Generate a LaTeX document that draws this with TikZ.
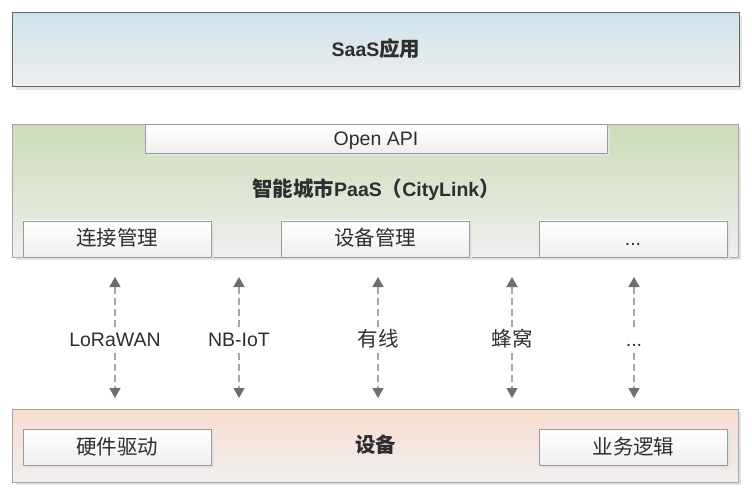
\documentclass[tikz,border=0pt]{standalone}
\usepackage{fontspec}
\setmainfont{Liberation Sans}
\newfontfamily\cjk[Scale=1.05]{Noto Sans CJK SC}
\usetikzlibrary{arrows.meta}
\usetikzlibrary{shadows}

\definecolor{txtgrey}{HTML}{2E2E2E}
\definecolor{saastop}{HTML}{CFE2EA}
\definecolor{paastop}{HTML}{CCDCB8}
\definecolor{devtop}{HTML}{FADCD0}
\definecolor{boxbot}{HTML}{EFEFEF}
\definecolor{headgrey}{HTML}{6E6E6E}
\newcommand{\etcdots}{...}

\begin{document}
\begin{tikzpicture}[
    x=1bp, y=-1bp,
    every node/.style={text=txtgrey, font=\fontsize{19.5bp}{22bp}\selectfont,
      text height=17bp, text depth=3bp},
    layer/.style={draw=black!35, line width=1pt, rectangle, inner sep=0pt,
      drop shadow={shadow xshift=3bp, shadow yshift=-3bp, fill=black!11, opacity=1}},
    subbox/.style={layer, draw=black!40, top color=white, bottom color=boxbot,
      minimum width=188bp, minimum height=36bp},
    link/.style={draw=black!35, line width=1.5pt, dash pattern=on 7bp off 4bp,
      {Triangle[width=11bp, length=10bp, color=headgrey]}-{Triangle[width=11bp, length=10bp, color=headgrey]}},
  ]
  \useasboundingbox (0,0) rectangle (752,500);

  % layers
  \node[layer, draw=black!60, top color=saastop, bottom color=boxbot,
    minimum width=726bp, minimum height=74bp] (saas) at (376,50)
    {\bfseries SaaS{\cjk 应用}};
  \node[layer, top color=paastop, bottom color=boxbot,
    minimum width=725bp, minimum height=132bp] (paas) at (375.5,191) {};
  \node[layer, top color=devtop, bottom color=boxbot,
    minimum width=725bp, minimum height=73bp] (dev) at (375.5,445.5)
    {\bfseries\cjk 设备};

  % boxes inside
  \node[subbox, minimum width=462bp, minimum height=28bp] (api) at (376,139) {Open API};
  \node (paastitle) at (376,190)
    {\bfseries{\cjk 智能城市}PaaS{\cjk （}CityLink{\cjk ）}};
  \node[subbox] (conn) at (117,239) {\cjk 连接管理};
  \node[subbox] (devmgmt) at (375,239) {\cjk 设备管理};
  \node[subbox] (more) at (633,239) {\etcdots};
  \node[subbox] (driver) at (117,447) {\cjk 硬件驱动};
  \node[subbox] (logic) at (633.5,447) {\cjk 业务逻辑};

  % links
  \foreach \x/\lab [count=\i] in {115/LoRaWAN, 239/NB-IoT, 378/{\cjk 有线}, 512/{\cjk 蜂窝}, 634/\etcdots} {
    \coordinate (top\i) at (\x,277);
    \coordinate (bot\i) at (\x,398);
    \draw[link] (top\i) -- (bot\i);
    \node[fill=white, inner sep=1bp] (lab\i) at (\x,339) {\lab};
  }
\end{tikzpicture}
\end{document}
